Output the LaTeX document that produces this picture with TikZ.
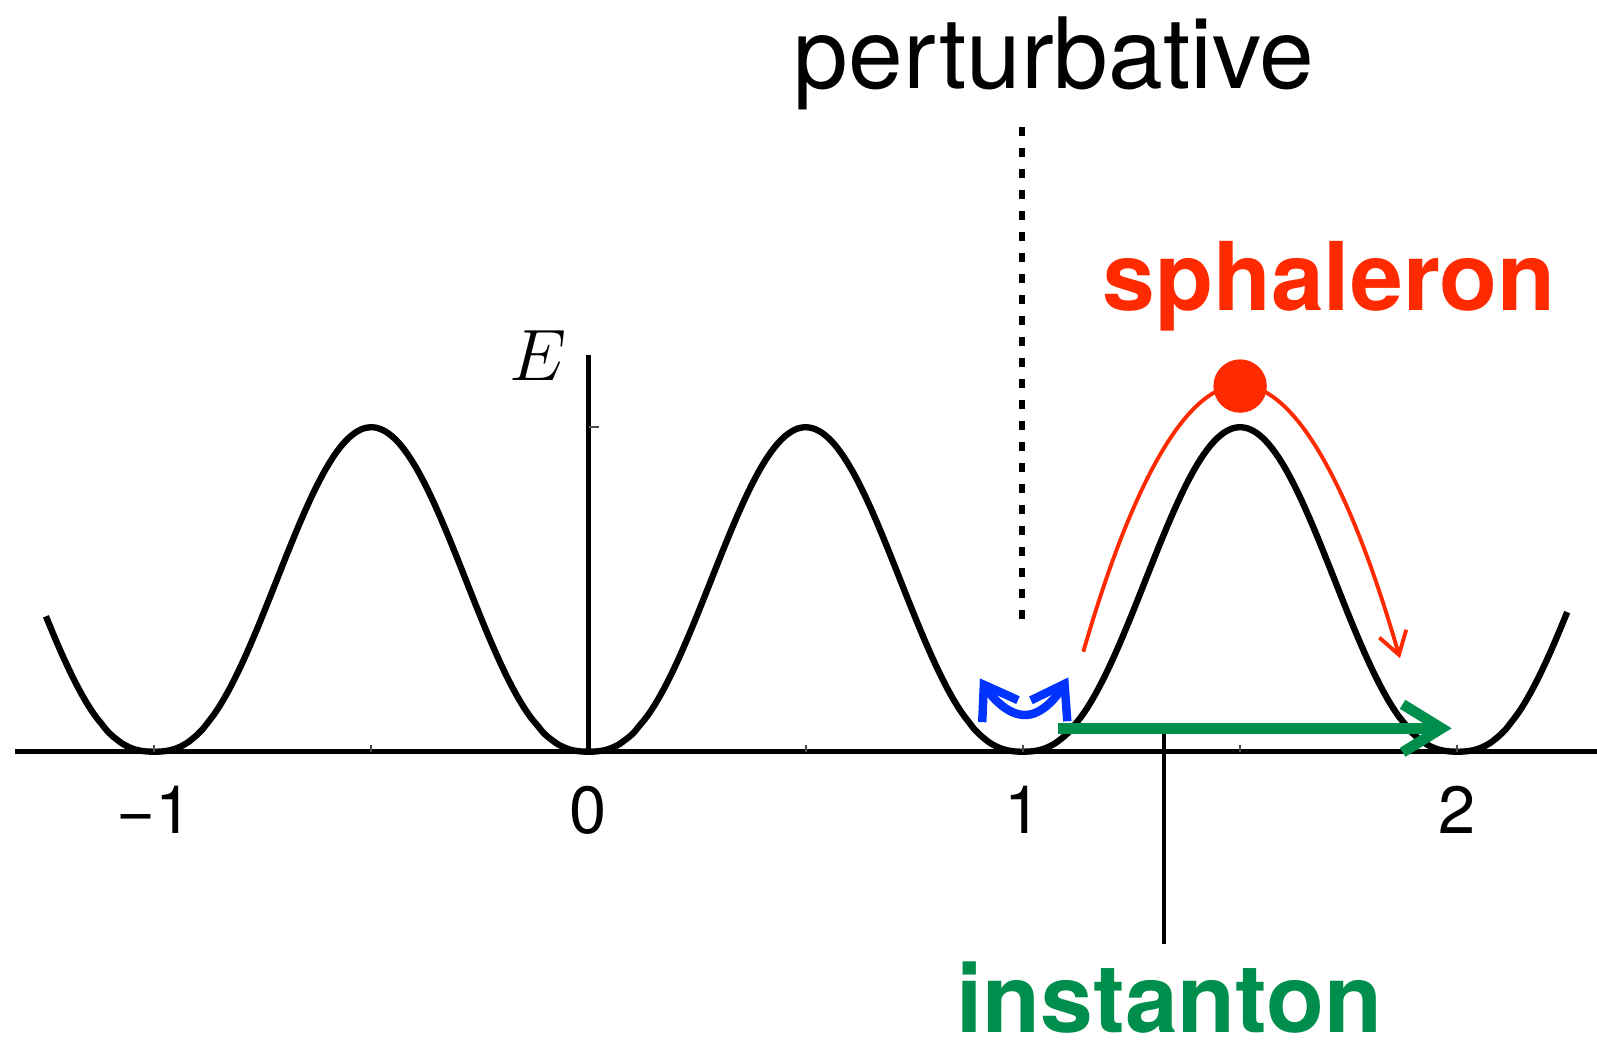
\documentclass[tikz,border=0pt]{standalone}
\usepackage{fontspec}
\setmainfont{TeX Gyre Heros}
\usepackage{xcolor}
\usepackage{tikz}
\usetikzlibrary{arrows.meta,positioning,calc}

\definecolor{sphred}{RGB}{255,42,0}
\definecolor{instgreen}{RGB}{0,142,76}
\definecolor{pertblue}{RGB}{0,51,255}

\begin{document}
\begin{tikzpicture}[
x=4.344cm,
y=3.244cm,
every node/.style={font=\fontsize{19}{21}\selectfont},
pot/.style={line width=1.8pt,line join=round},
axis/.style={line width=1.3pt},
tickmark/.style={line width=0.5pt,black!70},
ticklbl/.style={anchor=base,inner sep=0pt},
pertline/.style={line width=1.7pt,dash pattern=on 0.09cm off 0.12cm},
sphline/.style={sphred,line width=1.1pt,-{Straight Barb[length=2.2mm,width=2.8mm]}},
instline/.style={instgreen,line width=3pt,-{Straight Barb[length=3.9mm,width=4.8mm]}},
osc/.style={pertblue,line width=2.4pt,{Straight Barb[length=3.1mm,width=4.2mm]}-{Straight Barb[length=3.1mm,width=4.2mm]}},
pin/.style={line width=1.2pt},
title/.style={anchor=base,inner sep=0pt,font=\fontsize{28}{30}\selectfont},
bigbold/.style={anchor=base,inner sep=0pt,font=\fontsize{27}{30}\selectfont\bfseries}
]
\useasboundingbox (-1.3548,-0.9319) rectangle (2.3216,2.3172);

% potential and axes
\draw[pot] plot[domain=-1.249:2.253,samples=301,smooth] (\x,{pow(max(0.5*(1-cos(360*\x)),0)+0.0001,1.25)});
\draw[axis] (-1.320,0) -- (2.3216,0);
\draw[axis,line width=1.4pt] (0,0) -- (0,1.223);
\foreach \t in {-1,-0.5,0.5,1,1.5,2} \draw[tickmark] (\t,0) -- (\t,0.02);
\draw[tickmark] (0,1) -- (0.023,1);
\foreach \t/\l in {-1/−1,0/0,1/1,2/2} \node[ticklbl] (tl\t) at (\t,-0.251) {\l};
\node[anchor=base,inner sep=0pt,font=\fontsize{20}{22}\selectfont] (elbl) at (-0.117,1.143) {$E$};

% perturbative
\coordinate (pert-top) at (0.998,1.925);
\coordinate (pert-bot) at (0.998,0.386);
\draw[pertline] (pert-top) -- (pert-bot);
\node[title] (pert) at (1.072,2.044) {perturbative};
\coordinate (osc-l) at (0.901,0.226);
\coordinate (osc-m) at (1.005,0.113);
\coordinate (osc-r) at (1.1045,0.229);
\draw[osc] (osc-l) parabola bend (osc-m) (osc-r);

% sphaleron
\coordinate (sph-a) at (1.139,0.308);
\coordinate (sph-top) at (1.5,1.13);
\coordinate (sph-b) at (1.868,0.288);
\draw[sphline] (sph-a) parabola bend (sph-top) (sph-b);
\node[circle,fill=sphred,minimum size=0.534cm,inner sep=0pt] (dot) at (1.5,1.127) {};
\node[bigbold,text=sphred] (sphal) at (1.705,1.36) {sphaleron};

% instanton
\coordinate (pin-top) at (1.325,0.072);
\coordinate (pin-bot) at (1.325,-0.593);
\draw[pin] (pin-bot) -- (pin-top);
\coordinate (inst-a) at (1.0815,0.072);
\coordinate (inst-b) at (1.987,0.072);
\draw[instline] (inst-a) -- (inst-b);
\node[bigbold,text=instgreen] (inst) at (1.337,-0.865) {instanton};
\end{tikzpicture}
\end{document}
